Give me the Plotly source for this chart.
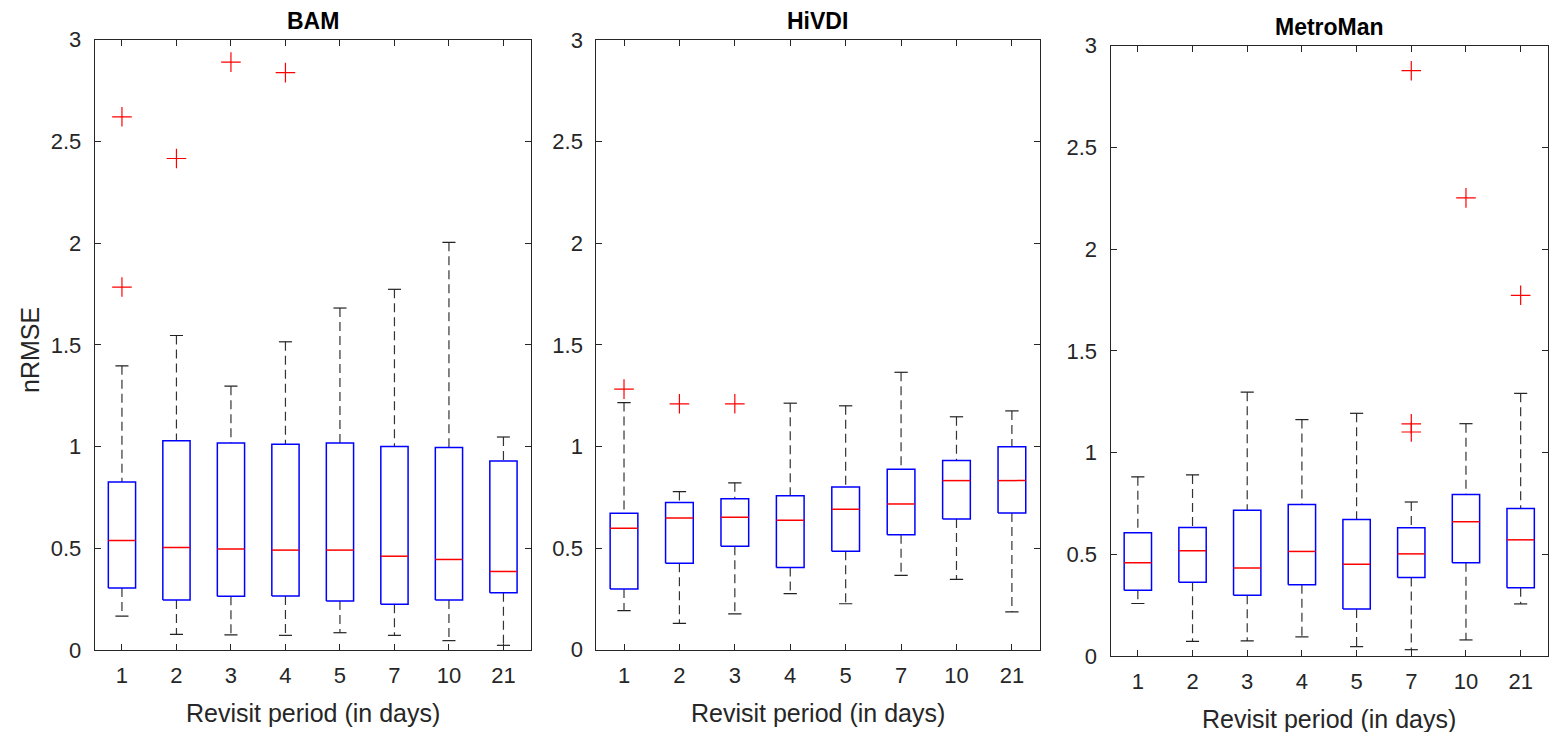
import plotly.graph_objects as go

categories = ["1", "2", "3", "4", "5", "7", "10", "21"]

# BAM
bam_lo  = [0.167, 0.077, 0.074, 0.072, 0.085, 0.072, 0.046, 0.023]
bam_q1  = [0.305, 0.246, 0.264, 0.266, 0.241, 0.225, 0.246, 0.282]
bam_med = [0.538, 0.504, 0.497, 0.491, 0.491, 0.461, 0.445, 0.386]
bam_q3  = [0.826, 1.029, 1.018, 1.011, 1.018, 1.000, 0.996, 0.929]
bam_hi  = [1.397, 1.546, 1.297, 1.515, 1.681, 1.773, 2.004, 1.047]
bam_out_cat = ["1", "1", "2", "3", "4"]
bam_out_val = [2.621, 1.784, 2.416, 2.890, 2.838]

# HiVDI
hivdi_lo  = [0.192, 0.130, 0.176, 0.276, 0.226, 0.366, 0.346, 0.186]
hivdi_q1  = [0.299, 0.425, 0.509, 0.404, 0.484, 0.565, 0.643, 0.673]
hivdi_med = [0.597, 0.648, 0.652, 0.637, 0.691, 0.717, 0.832, 0.832]
hivdi_q3  = [0.671, 0.724, 0.743, 0.757, 0.801, 0.888, 0.931, 0.998]
hivdi_hi  = [1.216, 0.778, 0.821, 1.213, 1.200, 1.365, 1.146, 1.175]
hivdi_out_cat = ["1", "2", "3"]
hivdi_out_val = [1.282, 1.210, 1.210]

# MetroMan
metro_lo  = [0.258, 0.072, 0.074, 0.094, 0.046, 0.031, 0.079, 0.256]
metro_q1  = [0.323, 0.363, 0.299, 0.350, 0.231, 0.386, 0.458, 0.335]
metro_med = [0.458, 0.517, 0.432, 0.514, 0.451, 0.502, 0.660, 0.571]
metro_q3  = [0.606, 0.632, 0.717, 0.745, 0.671, 0.630, 0.794, 0.725]
metro_hi  = [0.881, 0.890, 1.297, 1.162, 1.193, 0.757, 1.142, 1.291]
metro_out_cat = ["7", "7", "7", "10", "21"]
metro_out_val = [2.877, 1.141, 1.101, 2.252, 1.773]

panels = [
    ("BAM", bam_lo, bam_q1, bam_med, bam_q3, bam_hi, bam_out_cat, bam_out_val),
    ("HiVDI", hivdi_lo, hivdi_q1, hivdi_med, hivdi_q3, hivdi_hi, hivdi_out_cat, hivdi_out_val),
    ("MetroMan", metro_lo, metro_q1, metro_med, metro_q3, metro_hi, metro_out_cat, metro_out_val),
]

W, H = 1550, 732
# pixel geometry of each axes box: (left, right, top, bottom)
boxes_px = [(94.7, 530.7, 39.7, 650.0), (596.3, 1039.6, 40.0, 649.7), (1110.5, 1548.0, 45.7, 656.0)]

BOX_HW = 0.25
CAP_HW = 0.12
AX_COLOR = "#262626"
FONT = "Liberation Sans, Arial, sans-serif"

fig = go.Figure()
layout_axes = {}
annotations = []

for i, (name, lo, q1, med, q3, hi, ocat, oval) in enumerate(panels):
    n = i + 1
    xa = "x" if n == 1 else f"x{n}"
    ya = "y" if n == 1 else f"y{n}"
    pos = list(range(1, len(categories) + 1))
    idx = {c: p for c, p in zip(categories, pos)}

    wx, wy = [], []
    for p, a, b, c, d in zip(pos, lo, q1, q3, hi):
        wx += [p, p, None, p, p, None]
        wy += [d, c, None, b, a, None]
    fig.add_trace(go.Scatter(x=wx, y=wy, mode="lines", xaxis=xa, yaxis=ya,
                             line=dict(color="#333333", width=1.2, dash="9px,5px"),
                             showlegend=False, hoverinfo="skip"))
    cx, cy = [], []
    for p, a, d in zip(pos, lo, hi):
        cx += [p - CAP_HW, p + CAP_HW, None, p - CAP_HW, p + CAP_HW, None]
        cy += [d, d, None, a, a, None]
    fig.add_trace(go.Scatter(x=cx, y=cy, mode="lines", xaxis=xa, yaxis=ya,
                             line=dict(color="#222222", width=1.2),
                             showlegend=False, hoverinfo="skip"))
    bx, by = [], []
    for p, b, c in zip(pos, q1, q3):
        bx += [p - BOX_HW, p + BOX_HW, p + BOX_HW, p - BOX_HW, p - BOX_HW, None]
        by += [b, b, c, c, b, None]
    fig.add_trace(go.Scatter(x=bx, y=by, mode="lines", xaxis=xa, yaxis=ya,
                             line=dict(color="#0000ff", width=1.5),
                             showlegend=False, hoverinfo="skip"))
    mx, my = [], []
    for p, m in zip(pos, med):
        mx += [p - BOX_HW, p + BOX_HW, None]
        my += [m, m, None]
    fig.add_trace(go.Scatter(x=mx, y=my, mode="lines", xaxis=xa, yaxis=ya,
                             line=dict(color="#ff0000", width=1.5),
                             showlegend=False, hoverinfo="skip"))
    fig.add_trace(go.Scatter(x=[idx[c] for c in ocat], y=oval, mode="markers",
                             xaxis=xa, yaxis=ya,
                             marker=dict(symbol="cross-thin", size=14,
                                         line=dict(color="#ff0000", width=1.2)),
                             showlegend=False, hoverinfo="skip"))

    l, r, t, b = boxes_px[i]
    xdom = [l / W, r / W]
    ydom = [(H - b) / H, (H - t) / H]
    common = dict(showline=True, linecolor=AX_COLOR, linewidth=1, mirror="ticks",
                  ticks="inside", ticklen=6, tickcolor=AX_COLOR, tickwidth=1,
                  showgrid=False, zeroline=False, automargin=False,
                  tickfont=dict(family=FONT, size=22, color=AX_COLOR))
    layout_axes["xaxis" if n == 1 else f"xaxis{n}"] = dict(
        domain=xdom, range=[0.5, 8.5], tickvals=pos, ticktext=categories,
        anchor=ya, ticklabelstandoff=6, **common)
    layout_axes["yaxis" if n == 1 else f"yaxis{n}"] = dict(
        domain=ydom, range=[0, 3], tickvals=[0, 0.5, 1, 1.5, 2, 2.5, 3],
        ticktext=["0", "0.5", "1", "1.5", "2", "2.5", "3"],
        anchor=xa, ticklabelstandoff=8, **common)

    cxp = (l + r) / 2 / W
    annotations.append(dict(text=f"<b>{name}</b>", x=cxp, y=(H - (t - 19)) / H,
                            xref="paper", yref="paper", showarrow=False,
                            xanchor="center", yanchor="middle",
                            font=dict(family=FONT, size=23, color="black")))
    annotations.append(dict(text="Revisit period (in days)", x=cxp,
                            y=(H - (b + 63)) / H, xref="paper", yref="paper",
                            showarrow=False, xanchor="center", yanchor="middle",
                            font=dict(family=FONT, size=25, color=AX_COLOR)))

annotations.append(dict(text="nRMSE", x=30 / W, y=(H - 350) / H, xref="paper",
                        yref="paper", showarrow=False, textangle=-90,
                        xanchor="center", yanchor="middle",
                        font=dict(family=FONT, size=25, color=AX_COLOR)))

fig.update_layout(width=W, height=H, margin=dict(l=0, r=0, t=0, b=0, pad=0),
                  paper_bgcolor="white", plot_bgcolor="white",
                  annotations=annotations, **layout_axes)

fig.write_html("out.html")
